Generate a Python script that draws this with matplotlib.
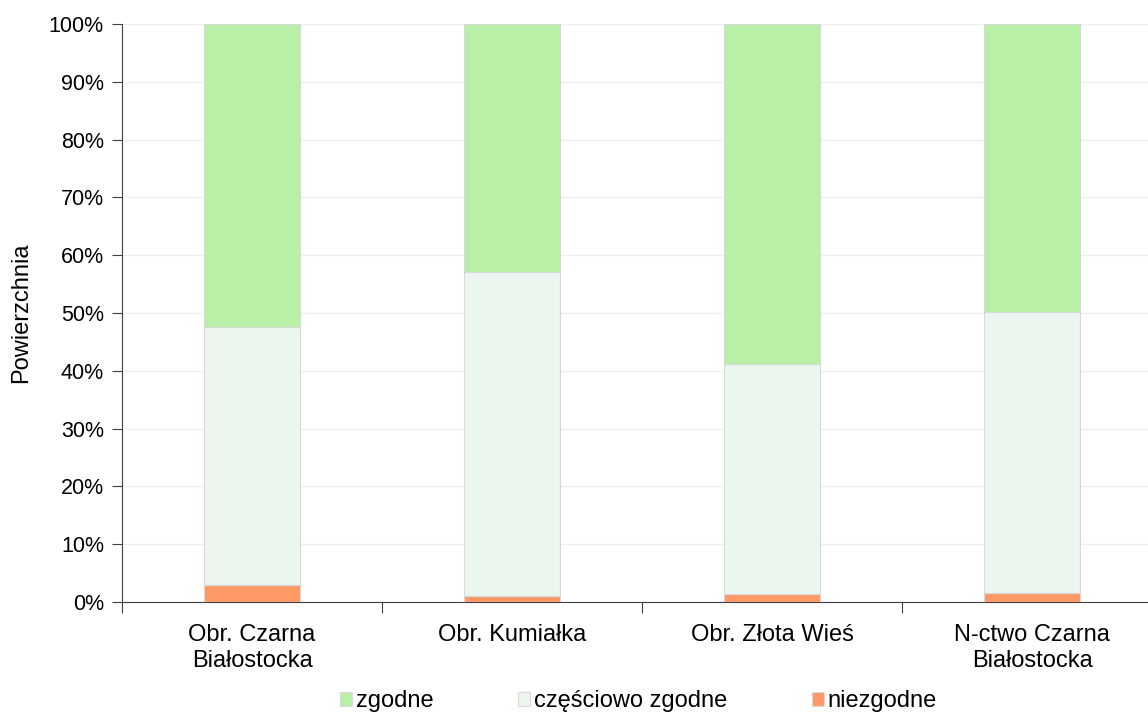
import matplotlib.pyplot as plt
from matplotlib.ticker import PercentFormatter

categories = ["Obr. Czarna\nBiałostocka", "Obr. Kumiałka", "Obr. Złota Wieś", "N-ctwo Czarna\nBiałostocka"]
niezgodne = [2.9, 1.0, 1.4, 1.6]
czesciowo = [44.7, 56.1, 39.7, 48.6]
zgodne = [100 - a - b for a, b in zip(niezgodne, czesciowo)]

plt.rcParams["font.family"] = ["Liberation Sans", "DejaVu Sans"]

fig = plt.figure(figsize=(11.48, 7.15), dpi=100)
ax = fig.add_axes([122 / 1148, 1 - 602 / 715, 1040 / 1148, 578 / 715])

x = range(len(categories))
w = 0.37
edge = "#d9d9d9"
ax.bar(x, niezgodne, w, color="#ff9966", edgecolor=edge, linewidth=0.8, label="niezgodne", zorder=3)
ax.bar(x, czesciowo, w, bottom=niezgodne, color="#ebf6ee", edgecolor=edge, linewidth=0.8,
       label="częściowo zgodne", zorder=3)
bottoms = [a + b for a, b in zip(niezgodne, czesciowo)]
ax.bar(x, zgodne, w, bottom=bottoms, color="#b9f0a8", edgecolor=edge, linewidth=0.8, label="zgodne", zorder=3)

ax.set_xlim(-0.5, 3.5)
ax.set_ylim(0, 100)
ax.set_yticks(range(0, 101, 10))
ax.yaxis.set_major_formatter(PercentFormatter(decimals=0))
ax.set_xticks([-0.5, 0.5, 1.5, 2.5])
ax.set_xticklabels([])
ax.set_xticks(list(x), minor=True)
ax.set_xticklabels(categories, minor=True, fontsize=17, linespacing=1.2)
ax.tick_params(axis="x", which="minor", length=0, pad=16)
ax.tick_params(axis="x", which="major", direction="out", length=8, color="#404040")
ax.tick_params(axis="y", labelsize=15.5, length=7, color="#404040", pad=6)
ax.grid(axis="y", color="#efefef", linewidth=1, zorder=0)

for s in ["top", "right"]:
    ax.spines[s].set_visible(False)
ax.spines["left"].set_color("#404040")
ax.spines["bottom"].set_color("#404040")

ax.set_ylabel("Powierzchnia", fontsize=17)
ax.yaxis.set_label_coords(-0.086, 0.5)

handles, labels = ax.get_legend_handles_labels()
fig.legend(handles[::-1], labels[::-1], loc="lower center", bbox_to_anchor=(0.556, -0.026), ncol=3,
           frameon=False, fontsize=17, handlelength=0.5, handleheight=0.55, handletextpad=0.15,
           columnspacing=3.6)

fig.savefig("out.png", dpi=100)
